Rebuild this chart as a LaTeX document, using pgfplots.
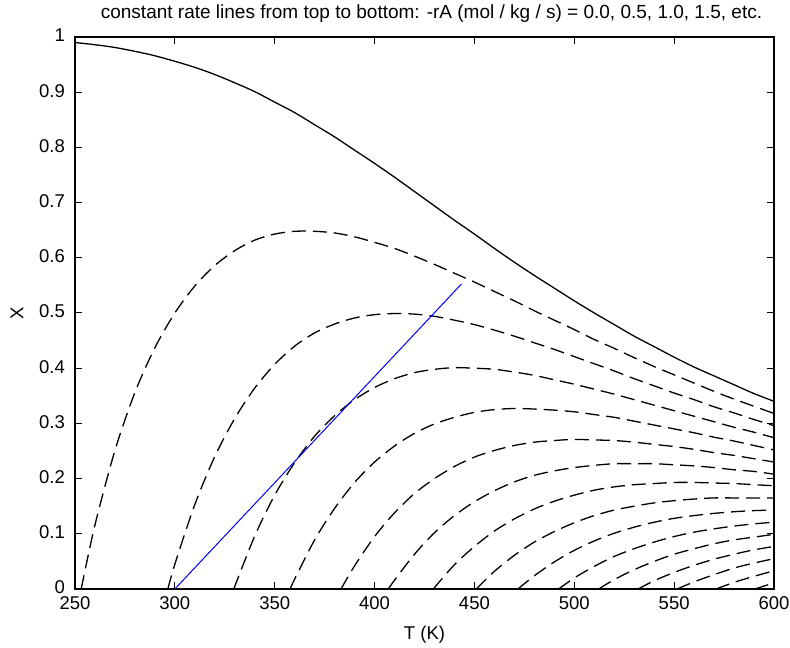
\documentclass[border=0pt]{standalone}
\usepackage{fontspec}
\setmainfont{Liberation Sans}
\usepackage{pgfplots}
\pgfplotsset{compat=1.18}
\pgfplotsset{
  curve/.style={black, line width=1.3bp, smooth, mark=none, solid},
  dcurve/.style={black, line width=1.3bp, smooth, mark=none, dash pattern=on 14bp off 7bp},
}
\begin{document}
\begin{tikzpicture}
\begin{axis}[
  name=ax, at={(0,0)}, anchor=south west,
  scale only axis, width=699bp, height=552bp,
  xmin=250, xmax=600, ymin=0, ymax=1,
  xtick={250,300,350,400,450,500,550,600},
  ytick={0,0.1,0.2,0.3,0.4,0.5,0.6,0.7,0.8,0.9,1},
  yticklabels={0,0.1,0.2,0.3,0.4,0.5,0.6,0.7,0.8,0.9,1},
  tick align=inside, tick pos=both, major tick length=7bp,
  axis line style={line width=1.2bp},
  every tick/.style={black, line width=1bp},
  /pgf/number format/assume math mode=true,
  tick label style={font=\fontsize{18.5bp}{22bp}\selectfont, inner sep=1bp},
  yticklabel style={xshift=-9bp, yshift=1.5bp},
  xticklabel style={yshift=-6.5bp},
  label style={font=\fontsize{18.5bp}{22bp}\selectfont},
  xlabel={T (K)},
  xlabel style={at={(axis description cs:0.5,0)}, anchor=base, yshift=-50bp},
  ylabel={X},
  ylabel style={at={(axis description cs:-0.083,0.5)}, anchor=center, rotate=0},
  title={constant rate lines from top to bottom: -rA (mol / kg / s) = 0.0, 0.5, 1.0, 1.5, etc.},
  title style={font=\fontsize{19bp}{22bp}\selectfont, at={(axis description cs:0.51,1)}, anchor=base, yshift=13bp},
  clip=true,
]
% rate 0 (equilibrium)
\addplot[curve] coordinates {(250,0.990)(260,0.986)(270,0.981)(280,0.974)(290,0.966)(300,0.956)(310,0.945)(320,0.932)(330,0.917)(340,0.901)(350,0.882)(360,0.863)(370,0.841)(380,0.819)(390,0.795)(400,0.771)(410,0.746)(420,0.720)(430,0.694)(440,0.668)(450,0.643)(460,0.617)(470,0.592)(480,0.568)(490,0.545)(500,0.522)(510,0.500)(520,0.479)(530,0.458)(540,0.439)(550,0.420)(560,0.402)(570,0.386)(580,0.370)(590,0.354)(600,0.340)};
% 0.5
\addplot[dcurve] coordinates {(253.1,0)(260,0.116)(270,0.251)(280,0.356)(290,0.437)(300,0.500)(310,0.549)(320,0.586)(330,0.613)(340,0.632)(350,0.643)(360,0.648)(370,0.648)(380,0.645)(390,0.638)(400,0.628)(410,0.617)(420,0.603)(430,0.588)(440,0.572)(450,0.556)(460,0.539)(470,0.522)(480,0.504)(490,0.487)(500,0.470)(510,0.452)(520,0.436)(530,0.419)(540,0.403)(550,0.388)(560,0.373)(570,0.358)(580,0.344)(590,0.331)(600,0.318)};
% 1.0
\addplot[dcurve] coordinates {(296.5,0)(300,0.045)(310,0.153)(320,0.240)(330,0.309)(340,0.364)(350,0.407)(360,0.440)(370,0.464)(380,0.480)(390,0.491)(400,0.497)(410,0.499)(420,0.498)(430,0.494)(440,0.487)(450,0.479)(460,0.469)(470,0.458)(480,0.446)(490,0.434)(500,0.421)(510,0.408)(520,0.395)(530,0.381)(540,0.368)(550,0.355)(560,0.343)(570,0.330)(580,0.319)(590,0.307)(600,0.296)};
% 1.5
\addplot[dcurve] coordinates {(329.5,0)(340,0.096)(350,0.170)(360,0.229)(370,0.277)(380,0.314)(390,0.343)(400,0.365)(410,0.381)(420,0.392)(430,0.398)(440,0.401)(450,0.400)(460,0.398)(470,0.393)(480,0.387)(490,0.379)(500,0.371)(510,0.362)(520,0.353)(530,0.343)(540,0.333)(550,0.323)(560,0.313)(570,0.303)(580,0.293)(590,0.284)(600,0.274)};
% 2.0
\addplot[dcurve] coordinates {(357.7,0)(360,0.018)(370,0.089)(380,0.146)(390,0.193)(400,0.230)(410,0.259)(420,0.282)(430,0.299)(440,0.311)(450,0.320)(460,0.325)(470,0.327)(480,0.326)(490,0.324)(500,0.321)(510,0.316)(520,0.311)(530,0.304)(540,0.297)(550,0.290)(560,0.283)(570,0.275)(580,0.268)(590,0.260)(600,0.252)};
% 2.5
\addplot[dcurve] coordinates {(383.2,0)(390,0.042)(400,0.095)(410,0.138)(420,0.173)(430,0.200)(440,0.222)(450,0.239)(460,0.251)(470,0.260)(480,0.266)(490,0.269)(500,0.271)(510,0.270)(520,0.269)(530,0.266)(540,0.262)(550,0.258)(560,0.253)(570,0.247)(580,0.242)(590,0.236)(600,0.230)};
% 3.0
\addplot[dcurve] coordinates {(406.9,0)(410,0.016)(420,0.063)(430,0.102)(440,0.133)(450,0.158)(460,0.178)(470,0.194)(480,0.206)(490,0.214)(500,0.220)(510,0.224)(520,0.227)(530,0.227)(540,0.227)(550,0.225)(560,0.223)(570,0.220)(580,0.216)(590,0.213)(600,0.208)};
% 3.5
\addplot[dcurve] coordinates {(429.4,0)(440,0.044)(450,0.077)(460,0.105)(470,0.127)(480,0.145)(490,0.159)(500,0.170)(510,0.179)(520,0.185)(530,0.189)(540,0.191)(550,0.193)(560,0.193)(570,0.192)(580,0.191)(590,0.189)(600,0.187)};
% 4.0
\addplot[dcurve] coordinates {(450.9,0)(460,0.032)(470,0.061)(480,0.085)(490,0.104)(500,0.120)(510,0.133)(520,0.143)(530,0.150)(540,0.156)(550,0.160)(560,0.163)(570,0.165)(580,0.165)(590,0.165)(600,0.165)};
% 4.5
\addplot[dcurve] coordinates {(471.8,0)(480,0.024)(490,0.049)(500,0.070)(510,0.087)(520,0.101)(530,0.112)(540,0.121)(550,0.128)(560,0.133)(570,0.137)(580,0.140)(590,0.142)(600,0.143)};
% 5.0
\addplot[dcurve] coordinates {(492.2,0)(500,0.020)(510,0.041)(520,0.059)(530,0.073)(540,0.085)(550,0.095)(560,0.103)(570,0.109)(580,0.114)(590,0.118)(600,0.121)};
% 5.5
\addplot[dcurve] coordinates {(512.2,0)(520,0.017)(530,0.035)(540,0.050)(550,0.063)(560,0.073)(570,0.082)(580,0.089)(590,0.094)(600,0.099)};
% 6.0
\addplot[dcurve] coordinates {(532.0,0)(540,0.015)(550,0.030)(560,0.043)(570,0.054)(580,0.063)(590,0.071)(600,0.077)};
% 6.5
\addplot[dcurve] coordinates {(551.5,0)(560,0.013)(570,0.026)(580,0.038)(590,0.047)(600,0.055)};
% 7.0
\addplot[dcurve] coordinates {(571.0,0)(580,0.012)(590,0.023)(600,0.033)};
% 7.5
\addplot[dcurve] coordinates {(590.4,0)(600,0.011)};
% operating line
\addplot[color={rgb,255:red,0;green,0;blue,255}, solid, line width=1bp, mark=none] coordinates {(300,0)(443.5,0.5525)};
\end{axis}
\pgfresetboundingbox
\path (-75bp,-59bp) rectangle (715bp,589bp);
\end{tikzpicture}
\end{document}
